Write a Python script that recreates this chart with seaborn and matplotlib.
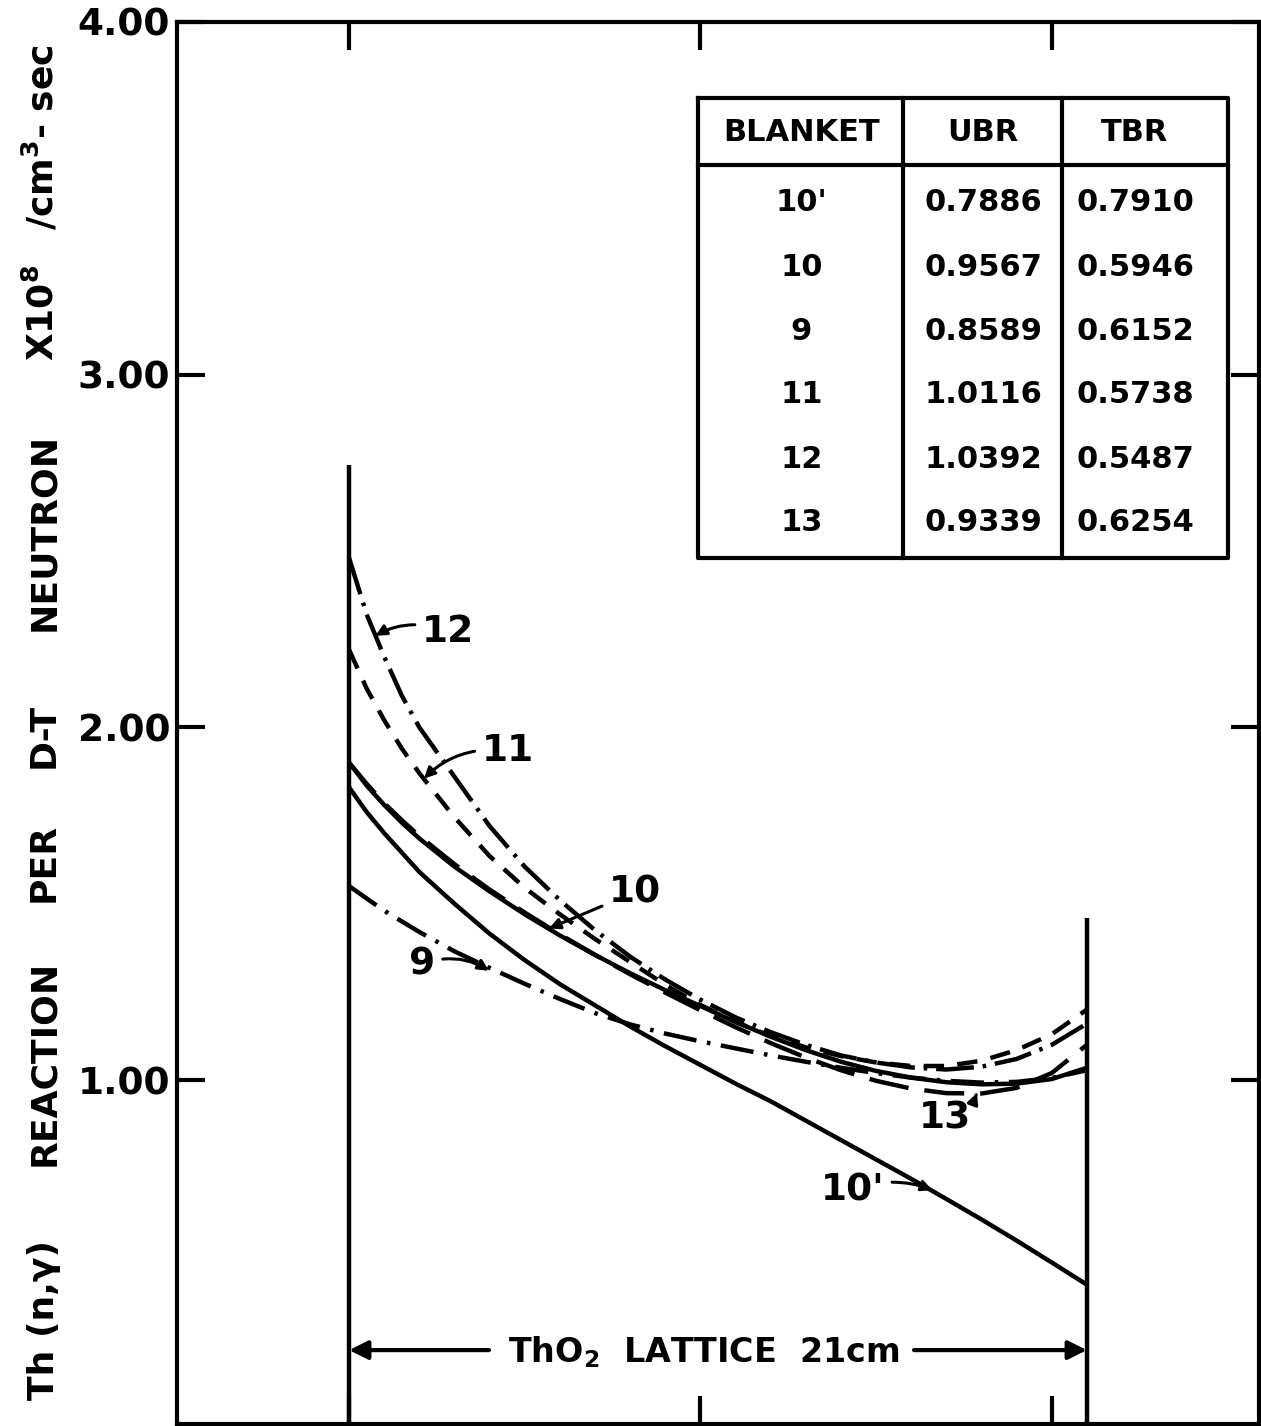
import matplotlib
matplotlib.use("Agg")
import matplotlib.pyplot as plt
import pandas as pd
import seaborn as sns

# Depth across the ThO2 lattice (cm)
depth = [0, 0.5, 1, 1.5, 2, 3, 4, 5, 6, 7, 8, 9, 10, 11, 12, 13, 14, 15, 16, 17, 18, 19, 20, 21]

# Th(n,gamma) reaction rate per D-T neutron (x1e8 /cm^3-sec) for each blanket
rate_10p = [1.83, 1.76, 1.70, 1.645, 1.59, 1.50, 1.415, 1.34, 1.272, 1.212, 1.152, 1.096,
            1.043, 0.99, 0.94, 0.885, 0.83, 0.775, 0.72, 0.663, 0.605, 0.545, 0.483, 0.42]
rate_10 = [1.90, 1.835, 1.78, 1.73, 1.685, 1.605, 1.535, 1.47, 1.41, 1.355, 1.303, 1.255,
           1.21, 1.165, 1.123, 1.085, 1.052, 1.026, 1.007, 0.994, 0.988, 0.99, 1.003, 1.035]
rate_9 = [1.55, 1.515, 1.48, 1.45, 1.42, 1.365, 1.318, 1.273, 1.23, 1.19, 1.158, 1.132,
          1.11, 1.09, 1.07, 1.052, 1.035, 1.02, 1.007, 0.998, 0.993, 0.995, 1.006, 1.028]
rate_11 = [2.22, 2.11, 2.02, 1.94, 1.87, 1.745, 1.635, 1.545, 1.47, 1.40, 1.335, 1.27,
           1.213, 1.165, 1.125, 1.093, 1.068, 1.05, 1.04, 1.04, 1.055, 1.085, 1.13, 1.20]
rate_12 = [2.48, 2.32, 2.20, 2.09, 2.00, 1.86, 1.72, 1.605, 1.51, 1.425, 1.35, 1.285,
           1.228, 1.178, 1.136, 1.10, 1.07, 1.05, 1.036, 1.03, 1.038, 1.06, 1.10, 1.16]
rate_13 = [1.90, 1.84, 1.785, 1.737, 1.692, 1.612, 1.54, 1.475, 1.413, 1.355, 1.30, 1.248,
           1.198, 1.15, 1.105, 1.064, 1.028, 0.998, 0.976, 0.963, 0.962, 0.978, 1.02, 1.10]

# Breeding ratios table
blankets = ["10'", "10", "9", "11", "12", "13"]
ubr = ["0.7886", "0.9567", "0.8589", "1.0116", "1.0392", "0.9339"]
tbr = ["0.7910", "0.5946", "0.6152", "0.5738", "0.5487", "0.6254"]

ytick_values = [1, 2, 3, 4]
ytick_labels = ["1.00", "2.00", "3.00", "4.00"]
xtick_values = [0, 10, 20]

lattice_width = 21

sns.set_style("ticks")
plt.rcParams["font.family"] = ["DejaVu Sans"]
plt.rcParams["font.weight"] = "bold"
plt.rcParams["mathtext.fontset"] = "dejavusans"
plt.rcParams["mathtext.default"] = "bf"
for key in ["text.color", "axes.labelcolor", "xtick.color", "ytick.color", "axes.edgecolor"]:
    plt.rcParams[key] = "black"

W, H = 1261, 1426
fig = plt.figure(figsize=(W / 100, H / 100), dpi=100)
ax = fig.add_axes([177 / W, 2 / H, 1082 / W, 1402 / H])

series = {"10'": rate_10p, "10": rate_10, "9": rate_9,
          "11": rate_11, "12": rate_12, "13": rate_13}
df = pd.DataFrame(
    [(d, v, name) for name, vals in series.items() for d, v in zip(depth, vals)],
    columns=["depth", "rate", "blanket"],
)
line_dashes = {
    "10'": "",
    "10": "",
    "9": (7.5, 2.4, 0.8, 2.4),
    "11": (4.6, 3.0),
    "12": (8.5, 2.0, 0.8, 2.0),
    "13": (9.0, 3.6),
}
sns.lineplot(data=df, x="depth", y="rate", hue="blanket", style="blanket",
             palette={k: "black" for k in series}, dashes=line_dashes,
             estimator=None, sort=False, legend=False, lw=3.2, ax=ax)

ax.set_xlim(-4.9, 25.9)
ax.set_ylim(0.025, 4.0)
ax.set_xlabel("")
ax.set_ylabel("")

# lattice boundaries
ax.vlines(0, 0.025, 2.744, color="black", lw=3.2)
ax.vlines(lattice_width, 0.025, 1.459, color="black", lw=3.2)

# frame and ticks
for sp in ax.spines.values():
    sp.set_visible(True)
    sp.set_linewidth(3.0)
    sp.set_color("black")
ax.set_xticks(xtick_values)
ax.set_xticklabels([])
ax.set_yticks(ytick_values)
ax.set_yticklabels(ytick_labels)
ax.tick_params(axis="x", which="both", direction="in", top=True, bottom=True,
               length=20, width=3, labelbottom=False)
ax.tick_params(axis="y", which="both", direction="in", left=True, right=True,
               length=20, width=3, labelsize=27, pad=5)
for t in ax.get_yticklabels():
    t.set_fontweight("bold")

# y-axis title, written word by word along the left margin
ylabel_parts = [("Th (n,γ)", 1320), ("REACTION", 1063), ("PER", 862),
                ("D-T", 735), ("NEUTRON", 532), ("X10$^8$", 313),
                ("/cm$^3$- sec", 137)]
for txt, py in ylabel_parts:
    fig.text(54 / W, 1 - py / H, txt, rotation=90, rotation_mode="anchor",
             ha="center", va="baseline", fontsize=26, fontweight="bold")

# curve labels with pointers
def label(txt, xy, xytext, rad):
    ax.annotate(txt, xy=xy, xytext=xytext, ha="left", va="center", fontsize=27,
                fontweight="bold",
                arrowprops=dict(arrowstyle="-|>", lw=2.2, color="black",
                                mutation_scale=16, shrinkA=3, shrinkB=0,
                                connectionstyle=f"arc3,rad={rad}"))

label("12", (0.75, 2.26), (2.08, 2.27), 0.25)
label("11", (2.13, 1.855), (3.78, 1.933), 0.25)
label("10", (5.69, 1.43), (7.4, 1.533), 0.0)
label("9", (3.98, 1.31), (1.71, 1.329), -0.25)
label("13", (17.87, 0.963), (16.22, 0.892), 0.3)
label("10'", (16.6, 0.688), (13.43, 0.688), -0.2)

# lattice width indicator
lat_y = 0.2345
arrow_kw = dict(arrowstyle="-|>", lw=3, color="black", mutation_scale=28,
                shrinkA=0, shrinkB=0)
ax.annotate("", xy=(0, lat_y), xytext=(3.98, lat_y), arrowprops=arrow_kw)
ax.annotate("", xy=(lattice_width, lat_y), xytext=(16.08, lat_y), arrowprops=arrow_kw)
ax.text(10.1, 0.2005, "ThO$_2$  LATTICE  21cm", ha="center", va="baseline",
        fontsize=24, fontweight="bold")

# breeding-ratio table drawn in axes coordinates
tx0, tx1, tx2, tx3 = 0.4815, 0.6710, 0.8179, 0.9713
ty_top, ty_head, ty_bot = 0.9458, 0.8980, 0.6177
tkw = dict(transform=ax.transAxes, color="black", lw=3, solid_capstyle="projecting")
ax.plot([tx0, tx3, tx3, tx0, tx0], [ty_top, ty_top, ty_bot, ty_bot, ty_top], **tkw)
ax.plot([tx0, tx3], [ty_head, ty_head], **tkw)
ax.plot([tx1, tx1], [ty_top, ty_bot], **tkw)
ax.plot([tx2, tx2], [ty_top, ty_bot], **tkw)

col_x = [0.577, 0.745, 0.8854]
head_y = 0.9215
for cx, h in zip(col_x, ["BLANKET", "UBR", "TBR"]):
    ax.text(cx, head_y, h, transform=ax.transAxes, ha="center", va="center",
            fontsize=22, fontweight="bold")
row_y = [0.8709, 0.8252, 0.7796, 0.7340, 0.6883, 0.6427]
for ry, b, u, t in zip(row_y, blankets, ubr, tbr):
    for cx, s in zip(col_x, [b, u, t]):
        ax.text(cx, ry, s, transform=ax.transAxes, ha="center", va="center",
                fontsize=22, fontweight="bold")

fig.savefig("out.png", dpi=100, facecolor="white")
